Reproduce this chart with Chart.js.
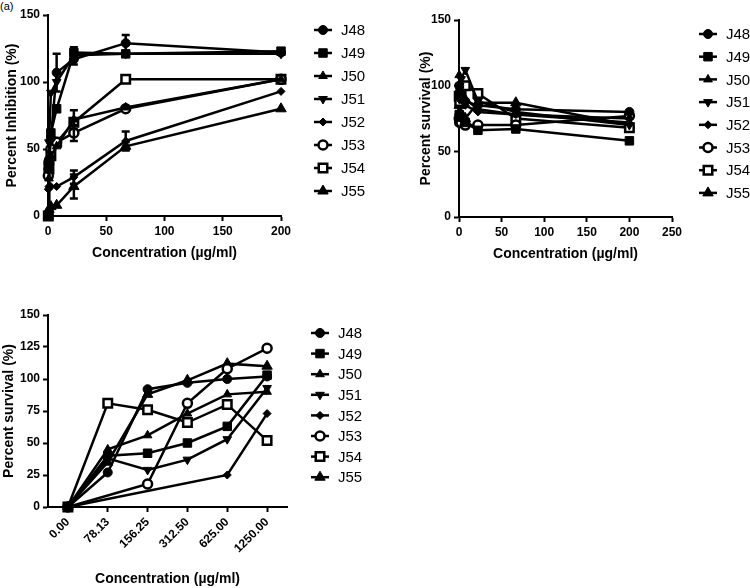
<!DOCTYPE html>
<html>
<head>
<meta charset="utf-8">
<script src="https://cdn.jsdelivr.net/npm/chart.js@4.4.1/dist/chart.umd.min.js"></script>
<style>
  html, body { margin: 0; padding: 0; background: #fff; }
  #page { position: relative; width: 750px; height: 588px; overflow: hidden; }
  .panel { position: absolute; }
  #tag { position: absolute; left: 0; top: 0; font: 11px "Liberation Sans", Arial, sans-serif; }
</style>
</head>
<body>
<div id="page">
  <div id="tag">(a)</div>
  <div class="panel" style="left:0;top:0;width:375px;height:290px"><canvas id="chartA"></canvas></div>
  <div class="panel" style="left:370px;top:0;width:380px;height:290px"><canvas id="chartB"></canvas></div>
  <div class="panel" style="left:0;top:300px;width:370px;height:288px"><canvas id="chartC"></canvas></div>
</div>
<script>
// Dati (tre pannelli, stessi 8 composti J48..J55).
const compounds = ["J48", "J49", "J50", "J51", "J52", "J53", "J54", "J55"];

// Pannello A/B: concentrazioni in µg/ml (diluizioni 1:3 da 200)
const concAB = [0.27, 0.82, 2.47, 7.41, 22.2, 66.7, 200];

// Pannello A: Percent Inhibition (%)
const inhJ48 = [35, 42, 58, 107, 117, 129, 122];
const inhJ49 = [0, 38, 62, 80, 122, 121, 123];
const inhJ50 = [0, 28, 45, 52, 72, 81, 102];
const inhJ51 = [0, 55, 92, 100, 120, 121, 121];
const inhJ52 = [20, 22, 22, 22, 29, 56, 93];
const inhJ53 = [30, 40, 50, 55, 62, 80, 102];
const inhJ54 = [0, 35, 45, 55, 70, 102, 102];
const inhJ55 = [0, 5, 7, 8, 22, 52, 80];
// barre d'errore (±) del pannello A
const errJ48 = [0, 0, 0, 14, 4, 6, 0];
const errJ49 = [0, 0, 0, 0, 4, 0, 0];
const errJ50 = [0, 0, 0, 0, 7, 0, 0];
const errJ52 = [0, 0, 0, 0, 5, 7, 0];
const errJ53 = [0, 0, 0, 0, 6, 0, 0];
const errJ55 = [0, 0, 0, 0, 9, 3, 0];

// Pannello B: Percent survival (%)
const survJ48 = [100, 95, 90, 88, 85, 82, 80];
const survJ49 = [78, 77, 76, 72, 66, 67, 58];
const survJ50 = [108, 100, 95, 90, 82, 78, 72];
const survJ51 = [90, 100, 105, 112, 88, 80, 70];
const survJ52 = [95, 92, 90, 85, 80, 78, 75];
const survJ53 = [75, 72, 72, 70, 70, 70, 77];
const survJ54 = [92, 88, 95, 100, 94, 75, 68];
const survJ55 = [85, 80, 78, 75, 87, 87, 70];

// Pannello C: categorie di concentrazione e Percent survival (%)
const concC = ["0.00", "78.13", "156.25", "312.50", "625.00", "1250.00"];
const cJ48 = [0, 27, 92, 97, 100, 102];
const cJ49 = [0, 40, 42, 50, 63, 103];
const cJ50 = [0, 45, 56, 73, 88, 90];
const cJ51 = [0, 38, 29, 37, 53, 93];
const cJ52 = [0, null, null, null, 25, 73];
const cJ53 = [0, null, 18, 81, 108, 124];
const cJ54 = [0, 81, 76, 66, 80, 52];
const cJ55 = [0, 35, 88, 99, 112, 110];

// Stili dei marker (uno per composto)
const MARKERS = [
  { pointStyle: "circle", radius: 4.5, bg: "#000" },
  { pointStyle: "rect", radius: 6, bg: "#000" },
  { pointStyle: "triangle", radius: 5, bg: "#000" },
  { pointStyle: "triangle", radius: 5, rotation: 180, bg: "#000" },
  { pointStyle: "rectRot", radius: 4, bg: "#000" },
  { pointStyle: "circle", radius: 4.5, bg: "#fff" },
  { pointStyle: "rect", radius: 6, bg: "#fff" },
  { pointStyle: "triangle", radius: 6, bg: "#000" },
];

const SANS = '"Liberation Sans", Arial, sans-serif';

function dataset(i, ys, xs, errs) {
  const m = MARKERS[i];
  return {
    label: compounds[i],
    data: xs ? ys.map((y, k) => ({ x: xs[k], y })) : ys,
    errors: errs || null,
    borderColor: "#000",
    borderWidth: 2.5,
    backgroundColor: m.bg,
    pointStyle: m.pointStyle,
    pointRadius: m.radius,
    pointRotation: m.rotation || 0,
    pointBorderColor: "#000",
    pointBackgroundColor: m.bg,
    pointBorderWidth: m.bg === "#fff" ? 2.5 : 1,
    tension: 0,
    spanGaps: true,
    clip: false,
  };
}

// barre d'errore verticali con cappelli
const errorBars = {
  id: "errorBars",
  afterDatasetsDraw(chart) {
    const ctx = chart.ctx;
    const ys = chart.scales.y;
    chart.data.datasets.forEach((ds, i) => {
      if (!ds.errors) return;
      chart.getDatasetMeta(i).data.forEach((pt, j) => {
        const e = ds.errors[j];
        if (!e) return;
        const v = ds.data[j].y;
        const top = ys.getPixelForValue(v + e);
        const bot = ys.getPixelForValue(v - e);
        ctx.save();
        ctx.strokeStyle = "#000";
        ctx.lineWidth = 2.5;
        ctx.beginPath();
        ctx.moveTo(pt.x, top); ctx.lineTo(pt.x, bot);
        ctx.moveTo(pt.x - 4, top); ctx.lineTo(pt.x + 4, top);
        ctx.moveTo(pt.x - 4, bot); ctx.lineTo(pt.x + 4, bot);
        ctx.stroke();
        ctx.restore();
      });
    });
  },
};

// legenda stile GraphPad: linea + marker + nome
const seriesLegend = {
  id: "seriesLegend",
  afterDraw(chart, args, opts) {
    const ctx = chart.ctx;
    chart.data.datasets.forEach((ds, i) => {
      const m = MARKERS[i];
      const x = opts.x, y = opts.y + i * opts.step;
      ctx.save();
      ctx.strokeStyle = "#000";
      ctx.lineWidth = 2.5;
      ctx.beginPath();
      ctx.moveTo(x - 9, y); ctx.lineTo(x + 9, y);
      ctx.stroke();
      ctx.fillStyle = m.bg;
      ctx.lineWidth = m.bg === "#fff" ? 2.5 : 1;
      Chart.helpers.drawPoint(ctx, { pointStyle: m.pointStyle, radius: m.radius, rotation: m.rotation || 0, borderWidth: 1 }, x, y);
      ctx.fillStyle = "#000";
      ctx.font = "15px " + SANS;
      if ("fontStretch" in ctx) ctx.fontStretch = "condensed";
      ctx.textBaseline = "middle";
      ctx.textAlign = "left";
      ctx.fillText(ds.label, x + 18, y + 1);
      ctx.restore();
    });
  },
};

function axisCommon() {
  return {
    border: { display: true, color: "#000", width: 2 },
    grid: { display: true, drawOnChartArea: false, drawTicks: true, tickLength: 5, tickColor: "#000", tickWidth: 2 },
    ticks: { color: "#000", font: { family: SANS, size: 12, weight: "bold" }, padding: 3 },
  };
}

function makePanel(id, cfg) {
  const x = axisCommon();
  const y = axisCommon();
  Object.assign(x, cfg.x);
  x.ticks = Object.assign({}, x.ticks, cfg.xTicks);
  x.title = { display: true, text: "Concentration (µg/ml)", color: "#000", font: { family: SANS, size: 14, weight: "bold" }, padding: { top: 0, bottom: cfg.xTitlePad } };
  x.afterFit = (s) => { s.height = cfg.xHeight; };
  Object.assign(y, { min: 0, max: 150, afterFit: (s) => { s.width = cfg.yWidth; } });
  y.ticks = Object.assign({}, y.ticks, { stepSize: cfg.yStep, padding: 3 });
  y.title = { display: true, text: cfg.yTitle, color: "#000", font: { family: SANS, size: 14, weight: "bold" }, padding: { top: cfg.yTitlePad, bottom: 0 } };

  return new Chart(document.getElementById(id), {
    type: "line",
    data: { labels: cfg.labels, datasets: cfg.datasets },
    options: {
      responsive: true,
      maintainAspectRatio: false,
      animation: false,
      layout: { padding: { left: 0, top: cfg.top, right: cfg.right, bottom: 0 } },
      plugins: {
        legend: { display: false },
        tooltip: { enabled: false },
        seriesLegend: cfg.legend,
      },
      scales: { x, y },
    },
    plugins: [errorBars, seriesLegend],
  });
}

document.addEventListener("DOMContentLoaded", () => {
  const inh = [inhJ48, inhJ49, inhJ50, inhJ51, inhJ52, inhJ53, inhJ54, inhJ55];
  const errA = [errJ48, errJ49, errJ50, null, errJ52, errJ53, null, errJ55];
  const surv = [survJ48, survJ49, survJ50, survJ51, survJ52, survJ53, survJ54, survJ55];
  const cc = [cJ48, cJ49, cJ50, cJ51, cJ52, cJ53, cJ54, cJ55];

  makePanel("chartA", {
    datasets: inh.map((ys, i) => dataset(i, ys, concAB, errA[i])),
    x: { type: "linear", min: 0, max: 200 },
    xTicks: { stepSize: 50 },
    yStep: 50,
    yTitle: "Percent Inhibition (%)",
    top: 15, right: 94, xHeight: 74, yWidth: 48, xTitlePad: 28, yTitlePad: 4,
    legend: { x: 323, y: 30, step: 23 },
  });

  makePanel("chartB", {
    datasets: surv.map((ys, i) => dataset(i, ys, concAB)),
    x: { type: "linear", min: 0, max: 250 },
    xTicks: { stepSize: 50 },
    yStep: 50,
    yTitle: "Percent survival (%)",
    top: 20, right: 78, xHeight: 73, yWidth: 89, xTitlePad: 27, yTitlePad: 48,
    legend: { x: 338, y: 34, step: 22.7 },
  });

  makePanel("chartC", {
    labels: concC,
    datasets: cc.map((ys, i) => dataset(i, ys)),
    x: { type: "category", offset: true },
    xTicks: { minRotation: 45, maxRotation: 45 },
    yStep: 25,
    yTitle: "Percent survival (%)",
    top: 15, right: 83, xHeight: 81, yWidth: 48, xTitlePad: 0, yTitlePad: 1,
    legend: { x: 320, y: 33, step: 20.6 },
  });
});
</script>
</body>
</html>
